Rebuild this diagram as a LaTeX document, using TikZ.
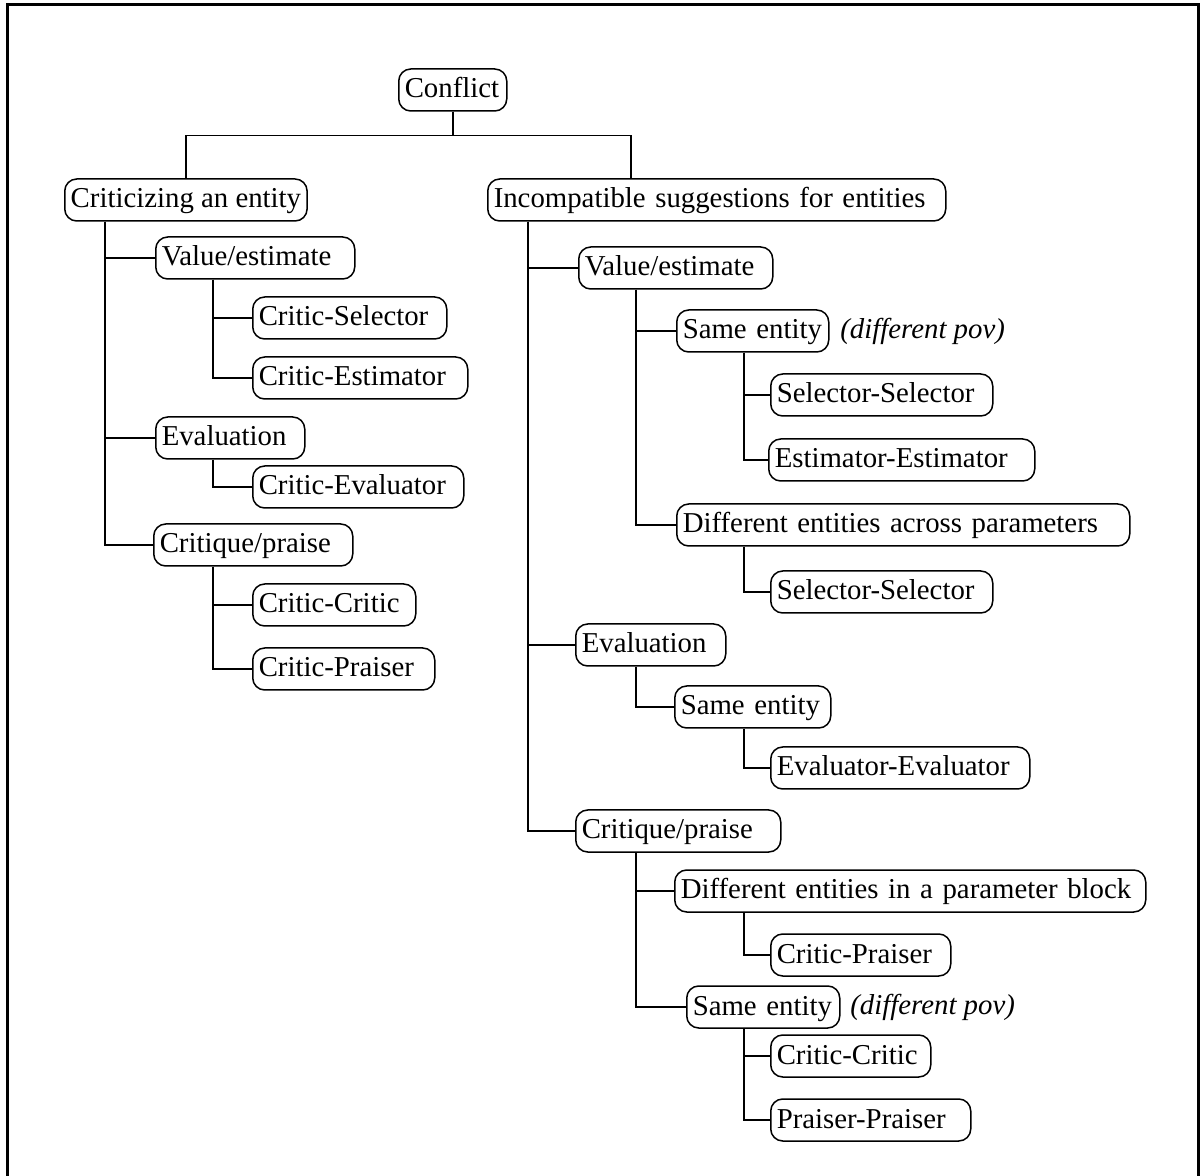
\documentclass[tikz,border=0pt]{standalone}
\usepackage{fontspec}
\setmainfont{Liberation Serif}
\usetikzlibrary{positioning}

\tikzset{
  tbox/.style={draw, rounded corners=6pt, line width=0.75pt, anchor=west, align=left,
    inner xsep=3pt, inner ysep=0pt, minimum height=21pt,
    font=\fontsize{14.4}{16}\selectfont, execute at begin node={\rule[-4pt]{0pt}{16pt}}},
  note/.style={anchor=west, inner sep=0pt, font=\fontsize{14.4}{16}\selectfont\itshape},
  link/.style={line width=0.75pt},
  frame/.style={line width=1.5pt}
}

\begin{document}
\begin{tikzpicture}[x=0.5pt, y=-0.5pt]
  \useasboundingbox (0,0) rectangle (1201,1176);
  %% open frame
  \draw[frame] (7.5,1176) -- (7.5,4.5) -- (1198.5,4.5) -- (1198.5,1176);

  %% root and first level
  \node[tbox, text width=48pt] (conflict) at (398,90) {Conflict};
  \node[tbox]                  (crit)     at (64,200)  {Criticizing an entity};
  \node[tbox, text width=223pt] (incomp)  at (487,200) {Incompatible suggestions for entities};
  \draw[link] (conflict.south) -- ++(0,24) -| (crit.north);
  \draw[link] (conflict.south) -- ++(0,24) -| ([xshift=72pt]incomp.north west);

  %% Left: criticizing an entity
  \node[tbox, text width=93.5pt]  (lval)  at (155,258) {Value/estimate};
  \node[tbox, text width=91pt]    (cs)    at (252,318) {Critic-Selector};
  \node[tbox, text width=101.5pt] (ce)    at (252,378) {Critic-Estimator};
  \node[tbox, text width=68.5pt]  (leval) at (155,438) {Evaluation};
  \node[tbox, text width=99.5pt]  (cev)   at (252,487) {Critic-Evaluator};
  \node[tbox, text width=93.5pt]  (lcrp)  at (153,545) {Critique/praise};
  \node[tbox, text width=75.5pt]  (cc)    at (252,605) {Critic-Critic};
  \node[tbox, text width=85pt]    (cp)    at (252,669) {Critic-Praiser};

  \draw[link] ([xshift=20.5pt]crit.south west) |- (lval.west);
  \draw[link] ([xshift=20.5pt]crit.south west) |- (leval.west);
  \draw[link] ([xshift=20.5pt]crit.south west) |- (lcrp.west);
  \draw[link] ([xshift=29pt]lval.south west) |- (cs.west);
  \draw[link] ([xshift=29pt]lval.south west) |- (ce.west);
  \draw[link] ([xshift=29pt]leval.south west) |- (cev.west);
  \draw[link] ([xshift=30pt]lcrp.south west) |- (cc.west);
  \draw[link] ([xshift=30pt]lcrp.south west) |- (cp.west);

  %% Right: incompatible suggestions
  \node[tbox, text width=91pt]    (rval)   at (578,268)  {Value/estimate};
  \node[tbox, text width=70pt]    (samea)  at (676,331)  {Same entity};
  \node[note]                     (pova)   at (840,331)  {(different pov)};
  \node[tbox, text width=105pt]   (ssa)    at (770,395)  {Selector-Selector};
  \node[tbox, text width=127pt]   (ee)     at (768,460)  {Estimator-Estimator};
  \node[tbox, text width=220.5pt] (across) at (676,525)  {Different entities across parameters};
  \node[tbox, text width=105pt]   (ssb)    at (770,592)  {Selector-Selector};
  \node[tbox, text width=69pt]    (reval)  at (575,645)  {Evaluation};
  \node[tbox, text width=72pt]    (sameb)  at (674,707)  {Same entity};
  \node[tbox, text width=123.5pt] (evev)   at (770,768)  {Evaluator-Evaluator};
  \node[tbox, text width=96.5pt]  (rcrp)   at (575,831)  {Critique/praise};
  \node[tbox, text width=229.5pt] (block)  at (674,891)  {Different entities in a parameter block};
  \node[tbox, text width=84pt]    (cpb)    at (770,955)  {Critic-Praiser};
  \node[tbox, text width=70.5pt]  (samec)  at (686,1007) {Same entity};
  \node[note]                     (povc)   at (850,1007) {(different pov)};
  \node[tbox, text width=74pt]    (ccb)    at (770,1056) {Critic-Critic};
  \node[tbox, text width=94pt]    (pp)     at (770,1120) {Praiser-Praiser};

  \draw[link] ([xshift=20.5pt]incomp.south west) |- (rval.west);
  \draw[link] ([xshift=20.5pt]incomp.south west) |- (reval.west);
  \draw[link] ([xshift=20.5pt]incomp.south west) |- (rcrp.west);
  \draw[link] ([xshift=29pt]rval.south west) |- (samea.west);
  \draw[link] ([xshift=29pt]rval.south west) |- (across.west);
  \draw[link] ([xshift=34pt]samea.south west) |- (ssa.west);
  \draw[link] ([xshift=34pt]samea.south west) |- (ee.west);
  \draw[link] ([xshift=34pt]across.south west) |- (ssb.west);
  \draw[link] ([xshift=30.5pt]reval.south west) |- (sameb.west);
  \draw[link] ([xshift=35pt]sameb.south west) |- (evev.west);
  \draw[link] ([xshift=30.5pt]rcrp.south west) |- (block.west);
  \draw[link] ([xshift=30.5pt]rcrp.south west) |- (samec.west);
  \draw[link] ([xshift=35pt]block.south west) |- (cpb.west);
  \draw[link] ([xshift=29pt]samec.south west) |- (ccb.west);
  \draw[link] ([xshift=29pt]samec.south west) |- (pp.west);
\end{tikzpicture}
\end{document}
